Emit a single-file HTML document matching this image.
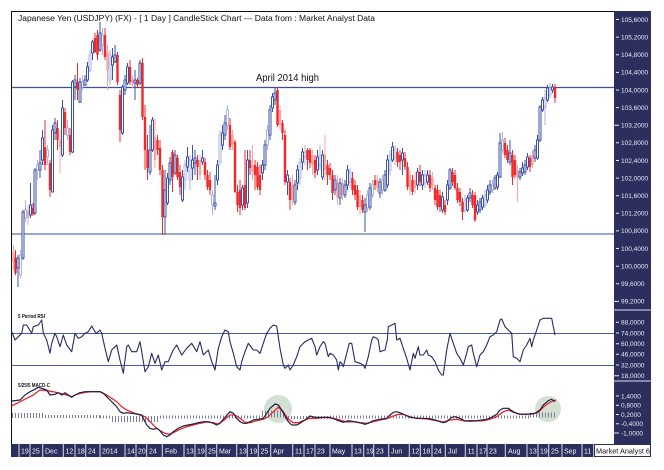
<!DOCTYPE html>
<html><head><meta charset="utf-8"><style>
html,body{margin:0;padding:0;background:#fff;}
svg{display:block;font-family:"Liberation Sans",Arial,sans-serif;}
</style></head><body>
<svg width="664" height="470" viewBox="0 0 664 470" xmlns="http://www.w3.org/2000/svg">
<rect x="0" y="0" width="664" height="470" fill="#fff"/>
<!-- frame -->
<line x1="11" y1="11.5" x2="614" y2="11.5" stroke="#111" stroke-width="1"/>
<line x1="11.5" y1="11" x2="11.5" y2="444" stroke="#111" stroke-width="1"/>
<text x="18" y="21" font-size="8" fill="#111" textLength="357" lengthAdjust="spacingAndGlyphs">Japanese Yen (USDJPY) (FX) -  [ 1 Day ] CandleStick Chart --- Data from : Market Analyst Data</text>
<text x="256" y="81" font-size="10.5" fill="#111" textLength="63" lengthAdjust="spacingAndGlyphs">April 2014 high</text>
<!-- horizontal lines -->
<line x1="12" y1="87.5" x2="614" y2="87.5" stroke="#3d4f9a" stroke-width="1.2"/>
<line x1="12" y1="234" x2="614" y2="234" stroke="#9aa6d0" stroke-width="2"/>

<!-- light candles -->
<g stroke-width="1" fill="none">
<path stroke="#a9b5dd" d="M20.5 250V278M25.5 200V222M37.5 160V180M47.5 145V165M67.5 120V140M82.5 75V90M90 50V72M102.5 28V55M110 50V85M185 160V190M190 155V190M212.5 190V215M220 130V165M227.5 105V130M267.5 125V150M300 158V185M305 145V165M320 145V170M350 168V188M367.5 190V212M372.5 180V198M382.5 175V195M390 150V175M395 145V165M425 170V188M465 195V213M485 190V208M492.5 180V193M502.5 132V153M545 90V125M550 83V98"/>
<path stroke="#a9b5dd" fill="#fff" d="M19.5 255h2V275h-2zM24.5 210h2V218h-2zM36.5 165h2V170h-2zM46.5 150h2V157h-2zM66.5 128h2V135h-2zM81.5 82h2V87h-2zM89 55h2V70h-2zM101.5 35h2V45h-2zM109 55h2V80h-2zM184 165h2V180h-2zM189 160h2V180h-2zM211.5 195h2V205h-2zM219 135h2V162h-2zM226.5 110h2V125h-2zM266.5 130h2V145h-2zM299 163h2V178h-2zM304 152h2V157h-2zM319 155h2V165h-2zM349 172h2V182h-2zM366.5 195h2V208h-2zM371.5 185h2V195h-2zM381.5 180h2V190h-2zM389 155h2V170h-2zM394 150h2V158h-2zM424 175h2V183h-2zM464 200h2V210h-2zM484 195h2V205h-2zM491.5 185h2V190h-2zM501.5 140h2V150h-2zM544 98h2V107h-2zM549 88h2V95h-2z"/>
<path stroke="#f6a5a5" d="M13.5 245V270M28 205V225M60 130V173M107.5 45V90M132.5 75V88M155 118V168M200 155V180M232.5 130V150M252.5 145V180M280 105V130M292.5 175V205M312.5 150V175M325 135V180M337.5 175V205M342.5 178V200M360 190V215M377.5 175V192M410 170V195M415 172V193M432.5 172V190M517.5 165V202M532.5 150V168"/>
<path stroke="none" fill="#f6a5a5" d="M12.3 252h2.4V262h-2.4zM26.8 211h2.4V218h-2.4zM58.8 140h2.4V147h-2.4zM106.3 52h2.4V70h-2.4zM131.3 80h2.4V83h-2.4zM153.8 137h2.4V160h-2.4zM198.8 160h2.4V175h-2.4zM231.3 135h2.4V145h-2.4zM251.3 165h2.4V172h-2.4zM278.8 110h2.4V125h-2.4zM291.3 185h2.4V200h-2.4zM311.3 155h2.4V165h-2.4zM323.8 155h2.4V170h-2.4zM336.3 183h2.4V198h-2.4zM341.3 183h2.4V195h-2.4zM358.8 195h2.4V207h-2.4zM376.3 180h2.4V188h-2.4zM408.8 175h2.4V190h-2.4zM413.8 180h2.4V188h-2.4zM431.3 178h2.4V186h-2.4zM516.3 170h2.4V178h-2.4zM531.3 155h2.4V165h-2.4z"/>
</g>
<!-- dark candles -->
<g stroke-width="1" fill="none">
<path stroke="#f02a2a" d="M15.5 250V275M33 203V216M45 120V170M50 160V197M57.5 120V150M65 108V135M70 128V155M77.5 63V100M95 33V53M97.5 30V60M105 28V60M117.5 52V85M120 90V142M130 60V85M137.5 78V88M142.5 58V120M145 105V170M147.5 135V180M157.5 135V155M160 140V175M162.5 165V235M172.5 150V192M177.5 155V180M180 165V195M197.5 155V180M205 158V180M207.5 170V190M210 172V195M230 118V150M235 140V193M237.5 185V212M240 180V215M245 150V210M250 150V175M255 160V190M257.5 162V190M260 165V195M277.5 87V127M282.5 120V140M285 130V185M290 178V210M307.5 148V170M310 148V168M315 155V178M327.5 160V185M330 163V180M332.5 170V200M352.5 172V195M355 180V200M357.5 185V210M362.5 195V213M375 175V190M397.5 148V167M400 150V170M405 152V170M407.5 162V190M412.5 175V195M420 165V186M430 170V192M435 185V205M437.5 185V210M440 190V212M445 200V215M452.5 168V186M455 170V190M457.5 183V203M460 188V206M462.5 198V220M472.5 190V208M475 192V222M505 138V158M507.5 145V163M512.5 150V185M515 155V178M530 155V172M555 84V103"/>
<path stroke="none" fill="#f02a2a" d="M14.3 258h2.4V273h-2.4zM31.8 208h2.4V214h-2.4zM43.8 147h2.4V165h-2.4zM48.8 163h2.4V190h-2.4zM56.3 128h2.4V140h-2.4zM63.8 112h2.4V128h-2.4zM68.8 135h2.4V152h-2.4zM76.3 82h2.4V90h-2.4zM93.8 38h2.4V52h-2.4zM96.3 35h2.4V55h-2.4zM103.8 35h2.4V57h-2.4zM116.3 55h2.4V82h-2.4zM118.8 95h2.4V130h-2.4zM128.8 67h2.4V82h-2.4zM136.3 80h2.4V85h-2.4zM141.3 63h2.4V117h-2.4zM143.8 117h2.4V150h-2.4zM146.3 150h2.4V168h-2.4zM156.3 140h2.4V150h-2.4zM158.8 148h2.4V170h-2.4zM161.3 170h2.4V217h-2.4zM171.3 152h2.4V177h-2.4zM176.3 158h2.4V177h-2.4zM178.8 172h2.4V187h-2.4zM196.3 160h2.4V167h-2.4zM203.8 162h2.4V175h-2.4zM206.3 175h2.4V187h-2.4zM208.8 180h2.4V190h-2.4zM228.8 125h2.4V147h-2.4zM233.8 142h2.4V192h-2.4zM236.3 192h2.4V205h-2.4zM238.8 190h2.4V208h-2.4zM243.8 185h2.4V208h-2.4zM248.8 160h2.4V168h-2.4zM253.8 165h2.4V175h-2.4zM256.3 167h2.4V187h-2.4zM258.8 175h2.4V190h-2.4zM276.3 90h2.4V125h-2.4zM281.3 123h2.4V133h-2.4zM283.8 135h2.4V182h-2.4zM288.8 182h2.4V200h-2.4zM306.3 150h2.4V160h-2.4zM308.8 150h2.4V163h-2.4zM313.8 160h2.4V173h-2.4zM326.3 165h2.4V175h-2.4zM328.8 168h2.4V175h-2.4zM331.3 175h2.4V193h-2.4zM351.3 178h2.4V190h-2.4zM353.8 185h2.4V195h-2.4zM356.3 190h2.4V207h-2.4zM361.3 200h2.4V210h-2.4zM373.8 180h2.4V185h-2.4zM396.3 152h2.4V162h-2.4zM398.8 155h2.4V162h-2.4zM403.8 158h2.4V167h-2.4zM406.3 167h2.4V187h-2.4zM411.3 180h2.4V192h-2.4zM418.8 172h2.4V182h-2.4zM428.8 175h2.4V188h-2.4zM433.8 188h2.4V200h-2.4zM436.3 190h2.4V207h-2.4zM438.8 195h2.4V207h-2.4zM443.8 205h2.4V212h-2.4zM451.3 172h2.4V182h-2.4zM453.8 175h2.4V188h-2.4zM456.3 188h2.4V200h-2.4zM458.8 192h2.4V202h-2.4zM461.3 202h2.4V212h-2.4zM471.3 195h2.4V205h-2.4zM473.8 195h2.4V220h-2.4zM503.8 143h2.4V155h-2.4zM506.3 150h2.4V160h-2.4zM511.3 155h2.4V177h-2.4zM513.8 160h2.4V175h-2.4zM528.8 158h2.4V167h-2.4zM553.8 87h2.4V98h-2.4z"/>
<path stroke="#3d52a8" d="M18 255V287M23 210V260M30.5 183V218M35 168V215M40 150V178M42.5 130V165M52.5 125V192M55 118V140M62.5 100V157M72.5 80V153M75 75V100M80 78V103M85 75V86M87.5 62V82M92.5 40V60M100 22V52M112.5 48V80M115 45V63M122.5 85V135M125 75V95M127.5 63V85M135 70V100M140 60V85M150 125V175M152.5 117V152M165 170V235M167.5 173V205M170 157V185M175 150V175M182.5 170V202M187.5 147V172M192.5 145V180M195 150V175M202.5 150V165M215 175V210M217.5 160V185M222.5 125V150M225 115V140M242.5 185V210M247.5 150V208M262.5 160V180M265 140V170M270 105V140M272.5 93V112M275 87V105M287.5 170V195M295 180V205M297.5 165V190M302.5 148V170M317.5 150V175M322.5 150V180M335 175V195M340 178V205M345 180V198M347.5 165V190M365 198V232M370 183V210M380 178V198M385 170V192M387.5 155V188M392.5 142V162M402.5 148V175M417.5 168V190M422.5 170V190M427.5 170V185M442.5 192V213M447.5 180V205M450 168V190M467.5 195V212M470 188V202M477.5 200V215M480 198V213M482.5 195V210M487.5 185V203M490 180V195M495 175V190M497.5 172V190M500 133V178M510 140V165M520 168V180M522.5 162V176M525 160V175M527.5 153V170M535 145V162M537.5 135V160M540 105V142M542.5 97V112M547.5 85V102M552.5 84V93"/>
<path stroke="#3d52a8" fill="#fff" d="M17 258h2V268h-2zM22 212h2V258h-2zM29.5 205h2V215h-2zM34 170h2V213h-2zM39 163h2V170h-2zM41.5 138h2V160h-2zM51.5 130h2V192h-2zM54 123h2V133h-2zM61.5 108h2V155h-2zM71.5 82h2V152h-2zM74 80h2V87h-2zM79 82h2V102h-2zM84 80h2V85h-2zM86.5 67h2V80h-2zM91.5 42h2V53h-2zM99 33h2V50h-2zM111.5 57h2V65h-2zM114 55h2V62h-2zM121.5 87h2V133h-2zM124 80h2V90h-2zM126.5 67h2V83h-2zM134 80h2V83h-2zM139 63h2V83h-2zM149 150h2V172h-2zM151.5 120h2V150h-2zM164 190h2V217h-2zM166.5 178h2V203h-2zM169 163h2V180h-2zM174 155h2V173h-2zM181.5 177h2V200h-2zM186.5 157h2V167h-2zM191.5 160h2V168h-2zM194 158h2V163h-2zM201.5 158h2V162h-2zM214 203h2V206h-2zM216.5 165h2V180h-2zM221.5 133h2V145h-2zM224 123h2V135h-2zM241.5 188h2V205h-2zM246.5 160h2V203h-2zM261.5 165h2V173h-2zM264 145h2V165h-2zM269 110h2V135h-2zM271.5 97h2V108h-2zM274 93h2V100h-2zM286.5 175h2V182h-2zM294 185h2V202h-2zM296.5 170h2V183h-2zM301.5 152h2V162h-2zM316.5 157h2V170h-2zM321.5 155h2V177h-2zM334 180h2V190h-2zM339 183h2V198h-2zM344 185h2V195h-2zM346.5 170h2V185h-2zM364 205h2V212h-2zM369 188h2V207h-2zM379 182h2V193h-2zM384 175h2V190h-2zM386.5 160h2V185h-2zM391.5 147h2V160h-2zM401.5 153h2V160h-2zM416.5 172h2V185h-2zM421.5 175h2V185h-2zM426.5 175h2V182h-2zM441.5 197h2V210h-2zM446.5 185h2V200h-2zM449 170h2V188h-2zM466.5 198h2V210h-2zM469 193h2V198h-2zM476.5 205h2V212h-2zM479 202h2V210h-2zM481.5 198h2V207h-2zM486.5 190h2V200h-2zM489 185h2V192h-2zM494 178h2V188h-2zM496.5 175h2V187h-2zM499 143h2V177h-2zM509 153h2V162h-2zM519 172h2V177h-2zM521.5 168h2V173h-2zM524 165h2V172h-2zM526.5 157h2V167h-2zM534 150h2V158h-2zM536.5 140h2V158h-2zM539 107h2V140h-2zM541.5 100h2V110h-2zM546.5 88h2V100h-2zM551.5 87h2V90h-2z"/>
</g>

<!-- RSI panel -->
<text x="18" y="318" font-size="5.5" font-weight="bold" fill="#111" textLength="27" lengthAdjust="spacingAndGlyphs">5 Period RSI</text>
<line x1="12" y1="333.5" x2="614" y2="333.5" stroke="#4a5ca8" stroke-width="1"/>
<line x1="12" y1="365.5" x2="614" y2="365.5" stroke="#4a5ca8" stroke-width="1"/>
<polyline fill="none" stroke="#262b63" stroke-width="1.1" stroke-linejoin="round" points="11.7,331.7 15,340 18.3,336.7 21.7,333.3 23.3,325 26.7,325 31.7,333.3 33.3,326.7 38.3,325 41.7,320 43.3,333.3 46.7,340 50,353.3 51.7,343.3 55,333.3 56.7,336.7 60,346.7 63.3,335 66.7,345 71.7,351.7 75,333.3 78.3,338.3 81.7,336.7 85,333.3 88.3,331.7 91.7,326 95,331.7 96.7,333.3 100,330 101.7,333.3 105,348.3 108.3,361.7 111.7,350 115,346.7 116.7,345 120,360 123.3,373.3 126.7,346.7 128.3,345 131.7,351.7 136.7,351.7 140,341.7 141.7,351.7 145,371.7 148.3,366.7 151.7,353.3 155,363.3 158.3,355 161.7,370 165,361.7 168.3,361.7 171.7,353.3 173.3,350 176.7,345 180,351.7 181.7,355 186.7,348.3 191.7,343.3 196.7,351.7 200,341.7 203.3,355 208.3,350 211.7,361.7 215,370 218.3,348.3 221.7,336.7 225,330 228.3,331.7 230,341.7 233.3,353.3 236.7,366.7 240,370 241.7,361.7 245,351.7 248.3,343.3 253.3,350 256.7,350 260,353.3 263.3,343.3 266.7,333.3 270,328.3 273.3,325 276.7,326 280,348.3 283.3,365 285,368.3 288.3,365 290,370 293.3,365 296.7,356.7 300,346.7 301.7,345 305,341.7 308.3,340 311.7,338.3 315,346.7 316.7,355 320,346.7 323.3,341.7 325,343.3 328.3,356.7 330,353.3 333.3,355 336.7,360 338.3,370 340,361.7 341.7,363.3 343.3,366.7 346.7,353.3 349.3,343.3 351.7,343.3 355,361.7 360,363.3 363.3,365 365,368.3 368.3,356.7 371.7,340 373.3,336.7 376.7,338.3 378.3,340 380,351.7 385,350 387.3,340 388.3,326.7 391.7,325 395,323.3 396.7,340 400,338.3 403.3,348.3 406.7,358.3 410,370 413.3,353.3 415,358.3 418.3,346.7 420,355 423.3,355 426.7,350 428.3,355 431.7,356.7 435,361.7 438.3,370 441.7,375 443.3,375 446.7,350 450,333.3 453.3,343.3 456.7,353.3 460,358.3 463.3,365 466.7,353.3 468.3,346.7 471.7,345 473.3,353.3 476.7,366.7 480,355 483.3,351.7 486.7,345 490,336.7 493.3,335 496.7,331.7 500,320 501.7,319 505,326.7 508.3,330 511.7,333.3 513.3,356.7 516.7,358.3 520,361.7 523.3,350 526.7,345 530,338.3 531.7,346.7 533.3,340 536.7,330 540,320 543.3,318.3 548.3,318.3 551.7,318.3 553.3,326.7 555,335"/>

<!-- MACD panel -->
<text x="18" y="387" font-size="5.5" font-weight="bold" fill="#111" textLength="32" lengthAdjust="spacingAndGlyphs">5/25/5 MACD-C</text>
<circle cx="278" cy="409" r="14" fill="#d3e0d3"/>
<circle cx="548" cy="409" r="13" fill="#d3e0d3"/>
<g stroke="#7a7f98" stroke-dasharray="1 2" fill="none">
<line x1="12" y1="415.5" x2="45" y2="415.5" stroke-width="5"/>
<line x1="45" y1="416.5" x2="100" y2="416.5" stroke-width="3"/>
<line x1="100" y1="417" x2="112" y2="417" stroke-width="3"/>
<line x1="112" y1="419" x2="160" y2="419" stroke-width="6"/>
<line x1="160" y1="417" x2="262" y2="417" stroke-width="3"/>
<line x1="262" y1="414" x2="285" y2="414" stroke-width="7"/>
<line x1="285" y1="417.5" x2="330" y2="417.5" stroke-width="3"/>
<line x1="330" y1="417" x2="530" y2="417" stroke-width="3"/>
<line x1="530" y1="415" x2="556" y2="415" stroke-width="5"/>
</g>
<polyline fill="none" stroke="#e8282a" stroke-width="1.3" stroke-linejoin="round" points="11.7,406 20,401.7 26.7,398.3 33.3,395 40,390 46.7,390.7 53.3,391.7 60,393.3 66.7,395 71.7,396.7 76.7,394.3 83.3,392.7 90,391.7 100,391.7 106.7,395 111.7,398.3 116.7,401.7 121.7,406.7 126.7,410 133.3,412.7 140,415 145,416.7 150,421.7 155,426.7 160,430.7 165,433.3 168.3,434.3 173.3,432.7 180,429.3 186.7,426.7 193.3,425 200,423.3 206.7,422 213.3,422.7 218.3,424 223.3,420.7 230,415 235,415 240,418.3 245,422.3 250,422.7 256.7,420.7 263.3,419.3 268.3,416.7 273.3,411.7 278.3,407.3 283.3,411.7 288.3,419.3 293.3,422.7 298.3,422.7 303.3,420.7 310,418.3 316.7,418.3 325,417.3 333.3,418.3 340,420 346.7,422 353.3,421.7 360,422.7 366.7,423.3 373.3,421.7 380,420 386.7,418.7 393.3,416 398.3,414.3 403.3,414.3 410,416.7 416.7,418.3 426.7,419 436.7,420.7 443.3,422 450,420 456.7,419.3 463.3,420.7 470,421.3 476.7,421 483.3,420.7 490,419.3 496.7,416.7 503.3,411.7 508.3,410 513.3,412.3 520,414 526.7,414.3 533.3,413.7 538.3,412.3 543.3,407.3 548.3,403.3 553.3,400.7 556,400"/>
<polyline fill="none" stroke="#1b1f4a" stroke-width="1.2" stroke-linejoin="round" points="11.7,401 20,400 25,395 30,391.7 35,389.3 38.3,387.3 41.7,388.3 46.7,390 50,395 55,394.3 58.3,392.7 61.7,395 65,392.7 68.3,395 71.7,397.3 75,395 80,392.7 85,391.7 90,391.7 95,391.7 100,391.7 103.3,393.3 106.7,396.7 110,400 113.3,403.3 116.7,406.7 120,411.7 123.3,413.3 126.7,412.7 131.7,413.3 136.7,414 141.7,415 143.3,418.3 146.7,425 150,428.3 153.3,429.3 156.7,428.3 160,430.7 163.3,435 166.7,436.7 170,435 173.3,431.7 178.3,428.3 183.3,426 188.3,425 193.3,424 198.3,422.7 203.3,421.7 208.3,421.7 213.3,423.3 216.7,425 220,423.3 225,417.3 230,411.7 233.3,413.3 236.7,418.3 240,421.7 243.3,423.3 246.7,423.3 250,421.7 253.3,420 258.3,419.3 263.3,418.3 266.7,413.3 270,408.3 275,404 278.3,405 281.7,410 285,416 288.3,421.7 291.7,425 296.7,425 300,423.3 305,420 310,416 315,417.3 320,417.3 325,417.3 330,417.3 336.7,420 343.3,422.3 348.3,420.7 355,421.7 361.7,423.3 365,424.3 368.3,423.3 373.3,420.7 380,419.3 386.7,418.3 390,415 393.3,412.3 396.7,411.7 400,412.7 405,415 410,417.3 416.7,418.3 423.3,418.3 430,418.7 435,420 440,421.7 443.3,422.7 446.7,421.7 451.7,417.3 455,416.7 460,418.3 465,421 470,420.7 476.7,420.7 481.7,420 486.7,419.3 491.7,417.3 496.7,414.3 500,410 503.3,408.3 508.3,408.3 513.3,411.7 518.3,414 523.3,414.3 530,414 535,413.3 540,410 543.3,405 548.3,400.7 551.7,399.3 555,401.7"/>

<!-- right axis panel -->
<rect x="614" y="11" width="37" height="433" fill="#2c2f5e"/>
<line x1="614" y1="310" x2="651" y2="310" stroke="#a0a6c4" stroke-width="1.5"/>
<line x1="614" y1="381" x2="651" y2="381" stroke="#a0a6c4" stroke-width="1.5"/>
<g stroke="#e8e8f2" stroke-width="1">
<path d="M616 19.5h3M616 37.1h3M616 54.7h3M616 72.4h3M616 90h3M616 107.6h3M614 125.2h5M616 142.8h3M616 160.5h3M616 178.1h3M616 195.7h3M616 213.3h3M616 230.9h3M616 248.5h3M616 266.2h3M616 283.8h3M614 301.4h5M616 322.3h3M616 333h3M616 343.7h3M616 354.3h3M616 365h3M614 375.7h5M616 396h3M616 405.2h3M616 414.5h3M616 423.7h3M614 433h5"/>
</g>
<g font-size="6.5" fill="#e8e8f2">
<text x="621" y="21.8">105,6000</text>
<text x="621" y="39.4">105,2000</text>
<text x="621" y="57">104,8000</text>
<text x="621" y="74.7">104,4000</text>
<text x="621" y="92.3">104,0000</text>
<text x="621" y="109.9">103,6000</text>
<text x="621" y="127.5">103,2000</text>
<text x="621" y="145.1">102,8000</text>
<text x="621" y="162.8">102,4000</text>
<text x="621" y="180.4">102,0000</text>
<text x="621" y="198">101,6000</text>
<text x="621" y="215.6">101,2000</text>
<text x="621" y="233.2">100,8000</text>
<text x="621" y="250.8">100,4000</text>
<text x="621" y="268.5">100,0000</text>
<text x="621" y="286.1">99,6000</text>
<text x="621" y="303.7">99,2000</text>
<text x="621" y="324.6">88,0000</text>
<text x="621" y="335.3">74,0000</text>
<text x="621" y="346">60,0000</text>
<text x="621" y="356.6">46,0000</text>
<text x="621" y="367.3">32,0000</text>
<text x="621" y="378">18,0000</text>
<text x="621" y="398.3">1,4000</text>
<text x="621" y="407.5">0,8000</text>
<text x="621" y="416.8">0,2000</text>
<text x="621" y="426">-0,4000</text>
<text x="621" y="435.3">-1,0000</text>
</g>

<!-- x axis strip -->
<rect x="11" y="444" width="583" height="13" fill="#2c2f5e"/>
<g stroke="#dcdcec" stroke-width="1">
<path d="M19 444v13M30 444v13M42.7 444v13M63.3 444v13M75 444v13M85.7 444v13M100 444v13M125 444v13M136 444v13M146.7 444v13M162.3 444v13M184 444v13M195 444v13M206 444v13M216.7 444v13M236.7 444v13M247.3 444v13M258.3 444v13M270.7 444v13M292.7 444v13M304 444v13M315 444v13M330 444v13M352 444v13M363.7 444v13M373.7 444v13M388.7 444v13M409.3 444v13M420.3 444v13M432 444v13M445.3 444v13M465.3 444v13M477 444v13M487 444v13M505.3 444v13M527 444v13M538 444v13M548.7 444v13M562 444v13M582 444v13M593.7 444v13"/>
</g>
<g font-size="7" fill="#f2f2f8">
<text x="21" y="453.5">19</text>
<text x="32" y="453.5">25</text>
<text x="45" y="453.5">Dec</text>
<text x="65.5" y="453.5">12</text>
<text x="77" y="453.5">18</text>
<text x="88" y="453.5">24</text>
<text x="102" y="453.5">2014</text>
<text x="127" y="453.5">14</text>
<text x="138" y="453.5">20</text>
<text x="149" y="453.5">24</text>
<text x="165" y="453.5">Feb</text>
<text x="186" y="453.5">13</text>
<text x="197" y="453.5">19</text>
<text x="208" y="453.5">25</text>
<text x="219" y="453.5">Mar</text>
<text x="239" y="453.5">13</text>
<text x="249.5" y="453.5">19</text>
<text x="260.5" y="453.5">25</text>
<text x="273" y="453.5">Apr</text>
<text x="295" y="453.5">11</text>
<text x="306" y="453.5">17</text>
<text x="317" y="453.5">23</text>
<text x="332" y="453.5">May</text>
<text x="354" y="453.5">13</text>
<text x="366" y="453.5">19</text>
<text x="376" y="453.5">23</text>
<text x="391" y="453.5">Jun</text>
<text x="411.5" y="453.5">12</text>
<text x="422.5" y="453.5">18</text>
<text x="434" y="453.5">24</text>
<text x="448" y="453.5">Jul</text>
<text x="467.5" y="453.5">11</text>
<text x="479" y="453.5">17</text>
<text x="489" y="453.5">23</text>
<text x="508" y="453.5">Aug</text>
<text x="529" y="453.5">13</text>
<text x="540" y="453.5">19</text>
<text x="551" y="453.5">25</text>
<text x="564" y="453.5">Sep</text>
<text x="584" y="453.5">11</text>
</g>
<rect x="594.5" y="444.5" width="56" height="12" fill="#fff" stroke="#2c2f5e" stroke-width="1"/>
<text x="596" y="453.5" font-size="7" fill="#111" textLength="54" lengthAdjust="spacingAndGlyphs">Market Analyst 6</text>
</svg>
</body></html>
